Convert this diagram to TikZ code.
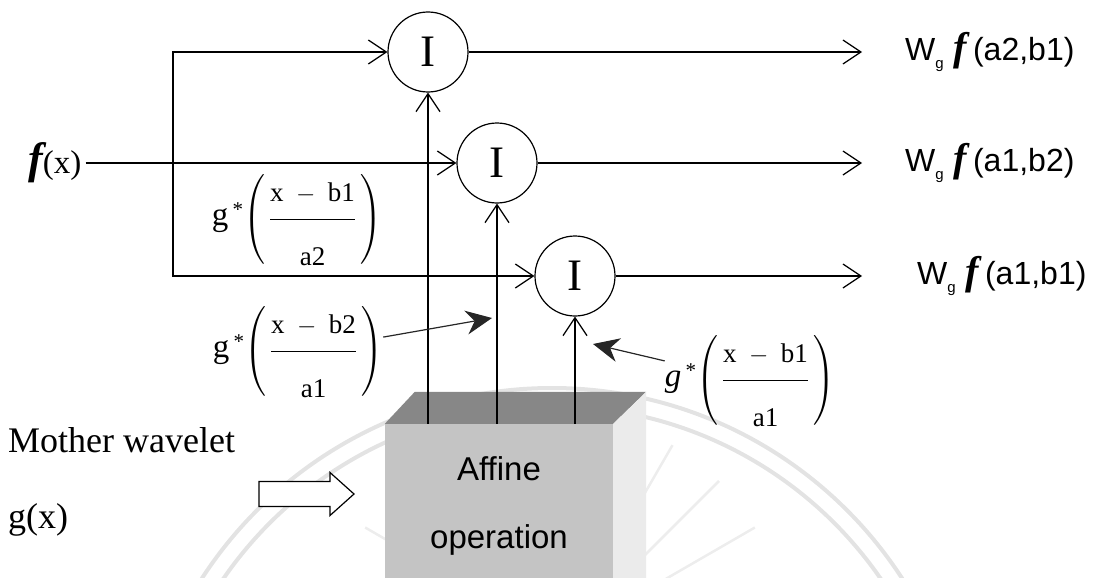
\documentclass[tikz,border=0pt]{standalone}
\usepackage{amsmath}
\usepackage{fontspec}
\setmainfont{Liberation Serif}
\setsansfont{Liberation Sans}
\usepackage{xcolor}
\usetikzlibrary{shapes,arrows.meta,positioning,calc}

% g*((num)/(den)) label
\newcommand{\gstar}[3]{$\text{\fontsize{33}{33}\selectfont #1}\,\raisebox{9pt}{\fontsize{21}{21}\selectfont *}\!\left(\,\dfrac{\rule[-15pt]{0pt}{15pt}#2}{\rule{0pt}{42pt}#3}\,\right)$}
\newcommand{\wgf}[1]{W\raisebox{-8pt}{\fontsize{15}{15}\selectfont g}\hspace{10pt}{\rmfamily\bfseries\itshape\fontsize{40}{40}\selectfont f}\hspace{6pt}(#1)}

\begin{document}
\begin{tikzpicture}[
    x=1pt, y=-1pt,
    sig/.style={-{Straight Barb[length=18pt,width=24pt]}, line width=1.2pt},
    pointer/.style={-{Stealth[length=26pt,width=24pt]}, line width=1.2pt, draw=black!85},
    mult/.style={draw, circle, line width=1.2pt, minimum size=80pt, inner sep=0pt, font=\fontsize{45}{45}\selectfont},
    outlbl/.style={anchor=west, inner sep=0pt, font=\sffamily\fontsize{32}{32}\selectfont},
    frac/.style={inner sep=0pt, font=\fontsize{27}{27}\selectfont},
    plain/.style={anchor=west, inner sep=0pt, font=\fontsize{36}{36}\selectfont},
    wm/.style={draw=black!11, line width=4pt}
]
\useasboundingbox (0,0) rectangle (1100,578);

% Watermark
\begin{scope}
\clip (0,0) rectangle (1100,578);
\draw[wm] (552,805) circle (417);
\draw[wm] (552,805) circle (399);
\foreach \a in {30,45,...,150}
    \draw[wm, line width=2.5pt, draw=black!7] (560,640) ++(-\a:95) -- ++(-\a:130);
\end{scope}

% Affine box
\node[fill=black!23, minimum width=228pt, minimum height=164pt, inner sep=0pt,
      font=\sffamily\fontsize{33}{68}\selectfont, align=center] (affine) at (499,506) {Affine\\operation};
\fill[black!47] (affine.north west) -- ++(30,-32) -- ($(affine.north east)+(33,-32)$) -- (affine.north east) -- cycle;
\fill[black!8] (affine.north east) -- ++(33,-32) -- ++(0,220) -- ($(affine.north east)+(0,190)$) -- cycle;

% Multipliers
\node[mult] (mul1) at (428,52) {I};
\node[mult] (mul2) at (497,163) {I};
\node[mult] (mul3) at (575,276) {I};

% Input
\node[anchor=west, inner sep=0pt] (fx) at (28,163) {{\bfseries\itshape\fontsize{44}{44}\selectfont f}{\fontsize{33}{33}\selectfont(x)}};
\coordinate (split) at (173,163);
\draw[sig] (fx.east) ++(4,0) -- (mul2);
\draw[sig] (split) |- (mul1);
\draw[sig] (split) |- (mul3);

% Outputs
\coordinate (o1) at (862,52);
\coordinate (o2) at (862,163);
\coordinate (o3) at (862,276);
\draw[sig] (mul1) -- (o1);
\draw[sig] (mul2) -- (o2);
\draw[sig] (mul3) -- (o3);
\node[outlbl, right=43pt of o1] (w1) {\wgf{a2,b1}};
\node[outlbl, right=43pt of o2] (w2) {\wgf{a1,b2}};
\node[outlbl, right=55pt of o3] (w3) {\wgf{a1,b1}};

% Wavelets from the box
\draw[sig] (mul1 |- affine.north) -- (mul1);
\draw[sig] (mul2 |- affine.north) -- (mul2);
\draw[sig] (mul3 |- affine.north) -- (mul3);

\node[frac] (g1) at (297,220) {\gstar{g}{\mathrm{x}\;-\;\mathrm{b1}}{\mathrm{a2}}};
\node[frac] (g2) at (298,352) {\gstar{g}{\mathrm{x}\;-\;\mathrm{b2}}{\mathrm{a1}}};
\node[frac] (g3) at (750,381) {\gstar{\itshape g}{\mathrm{x}\;-\;\mathrm{b1}}{\mathrm{a1}}};

\coordinate (t2) at (492,318);
\coordinate (t3) at (593,344);
\draw[pointer] (g2) -- (t2);
\draw[pointer] (g3) -- (t3);

% Mother wavelet
\node[plain] (mw) at (8,440) {Mother wavelet};
\node[plain] (gx) at (8,520) {g(x)};
\draw[line width=1.2pt, fill=white] (259,481.5) -- (330,481.5) -- (330,472.5) -- (354,494)
    -- (330,515.5) -- (330,506.5) -- (259,506.5) -- cycle;

\end{tikzpicture}
\end{document}
